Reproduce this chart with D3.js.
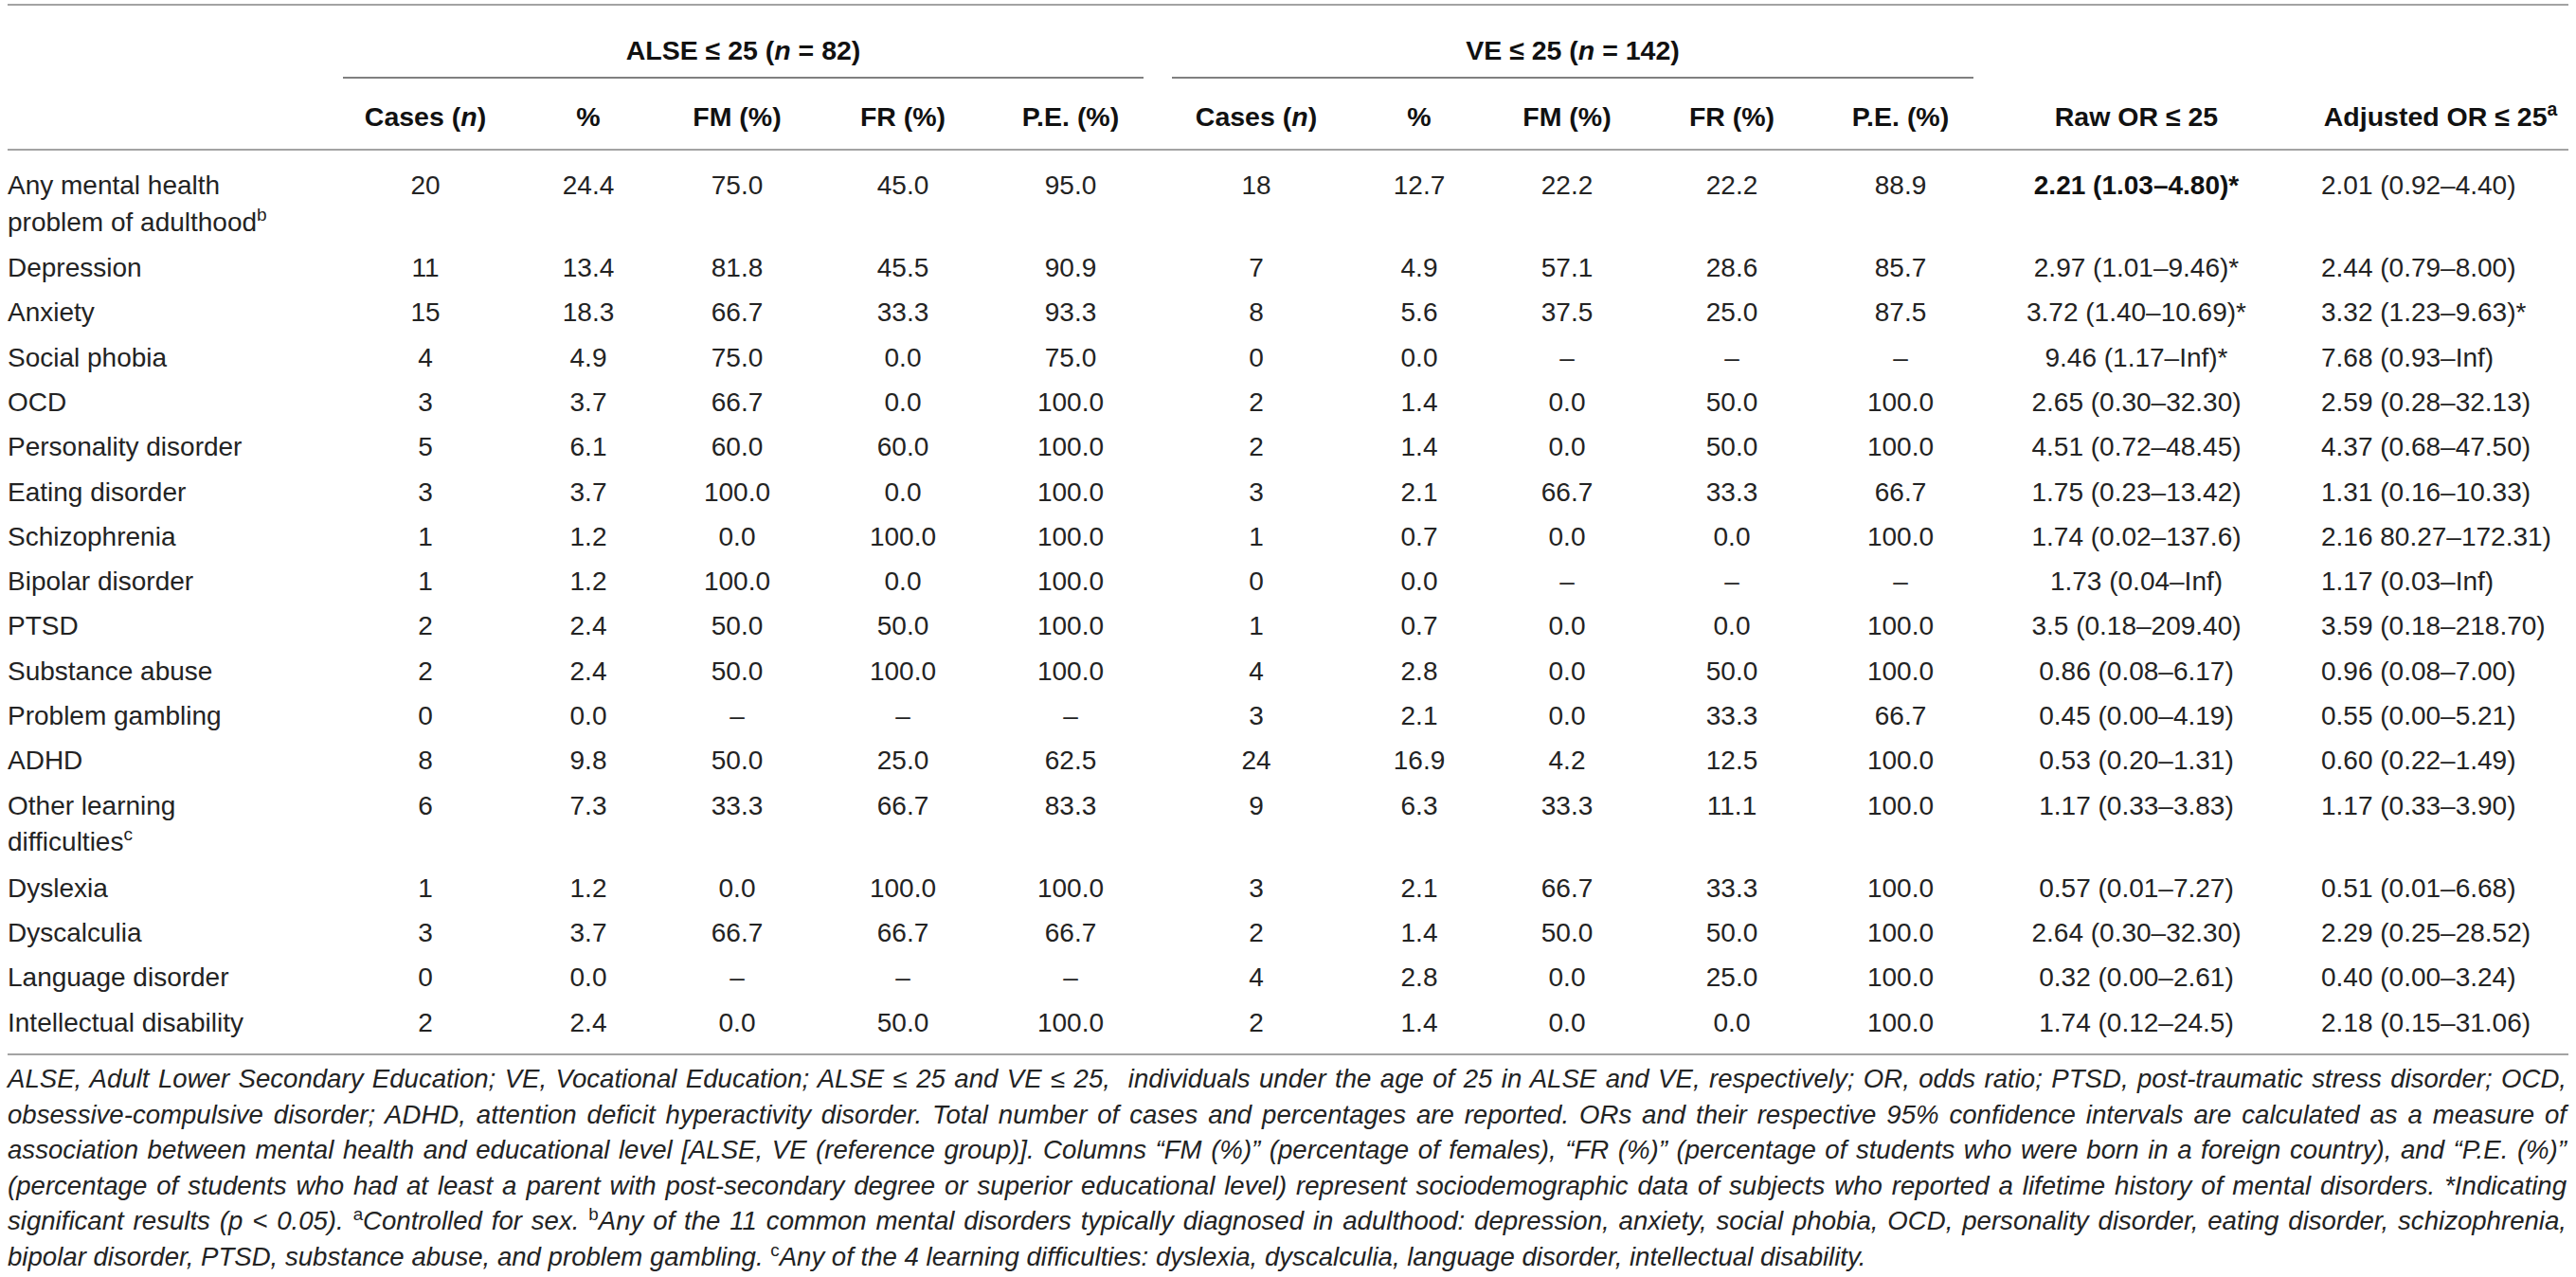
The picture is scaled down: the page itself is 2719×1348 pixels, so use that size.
<!DOCTYPE html>
<html><head><meta charset="utf-8">
<script src="https://cdn.jsdelivr.net/npm/d3@7"></script>
<style>
html,body{margin:0;padding:0;background:#fff;}
svg{display:block;}
text{font-family:"Liberation Sans",Arial,Helvetica,sans-serif;fill:#232323;}
</style></head><body>
<svg id="chart" width="2719" height="1348"></svg>
<script>
// ---------------- DATA ----------------
const categories = ["Any mental health problem of adulthood","Depression","Anxiety","Social phobia","OCD","Personality disorder","Eating disorder","Schizophrenia","Bipolar disorder","PTSD","Substance abuse","Problem gambling","ADHD","Other learning difficulties","Dyslexia","Dyscalculia","Language disorder","Intellectual disability"];
const labelNotes = ["b","","","","","","","","","","","","","c","","","",""];
const alseCases = [20,11,15,4,3,5,3,1,1,2,2,0,8,6,1,3,0,2];
const alsePct = [24.4,13.4,18.3,4.9,3.7,6.1,3.7,1.2,1.2,2.4,2.4,0.0,9.8,7.3,1.2,3.7,0.0,2.4];
const alseFM = [75.0,81.8,66.7,75.0,66.7,60.0,100.0,0.0,100.0,50.0,50.0,null,50.0,33.3,0.0,66.7,null,0.0];
const alseFR = [45.0,45.5,33.3,0.0,0.0,60.0,0.0,100.0,0.0,50.0,100.0,null,25.0,66.7,100.0,66.7,null,50.0];
const alsePE = [95.0,90.9,93.3,75.0,100.0,100.0,100.0,100.0,100.0,100.0,100.0,null,62.5,83.3,100.0,66.7,null,100.0];
const veCases = [18,7,8,0,2,2,3,1,0,1,4,3,24,9,3,2,4,2];
const vePct = [12.7,4.9,5.6,0.0,1.4,1.4,2.1,0.7,0.0,0.7,2.8,2.1,16.9,6.3,2.1,1.4,2.8,1.4];
const veFM = [22.2,57.1,37.5,null,0.0,0.0,66.7,0.0,null,0.0,0.0,0.0,4.2,33.3,66.7,50.0,0.0,0.0];
const veFR = [22.2,28.6,25.0,null,50.0,50.0,33.3,0.0,null,0.0,50.0,33.3,12.5,11.1,33.3,50.0,25.0,0.0];
const vePE = [88.9,85.7,87.5,null,100.0,100.0,66.7,100.0,null,100.0,100.0,66.7,100.0,100.0,100.0,100.0,100.0,100.0];
const rawOR = ["2.21 (1.03–4.80)*","2.97 (1.01–9.46)*","3.72 (1.40–10.69)*","9.46 (1.17–Inf)*","2.65 (0.30–32.30)","4.51 (0.72–48.45)","1.75 (0.23–13.42)","1.74 (0.02–137.6)","1.73 (0.04–Inf)","3.5 (0.18–209.40)","0.86 (0.08–6.17)","0.45 (0.00–4.19)","0.53 (0.20–1.31)","1.17 (0.33–3.83)","0.57 (0.01–7.27)","2.64 (0.30–32.30)","0.32 (0.00–2.61)","1.74 (0.12–24.5)"];
const rawBold = [true,false,false,false,false,false,false,false,false,false,false,false,false,false,false,false,false,false];
const adjOR = ["2.01 (0.92–4.40)","2.44 (0.79–8.00)","3.32 (1.23–9.63)*","7.68 (0.93–Inf)","2.59 (0.28–32.13)","4.37 (0.68–47.50)","1.31 (0.16–10.33)","2.16 80.27–172.31)","1.17 (0.03–Inf)","3.59 (0.18–218.70)","0.96 (0.08–7.00)","0.55 (0.00–5.21)","0.60 (0.22–1.49)","1.17 (0.33–3.90)","0.51 (0.01–6.68)","2.29 (0.25–28.52)","0.40 (0.00–3.24)","2.18 (0.15–31.06)"];
const groupHeaders = [{name:"ALSE", n:82},{name:"VE", n:142}];
const colHeaders = ["Cases (n)","%","FM (%)","FR (%)","P.E. (%)"];
const orHeaders = ["Raw OR ≤ 25","Adjusted OR ≤ 25"];
const orHeaderNotes = ["","a"];
const footnoteLines = [
 "ALSE, Adult Lower Secondary Education; VE, Vocational Education; ALSE ≤ 25 and VE ≤ 25,  individuals under the age of 25 in ALSE and VE, respectively; OR, odds ratio; PTSD, post-traumatic stress disorder; OCD,",
 "obsessive-compulsive disorder; ADHD, attention deficit hyperactivity disorder. Total number of cases and percentages are reported. ORs and their respective 95% confidence intervals are calculated as a measure of",
 "association between mental health and educational level [ALSE, VE (reference group)]. Columns “FM (%)” (percentage of females), “FR (%)” (percentage of students who were born in a foreign country), and “P.E. (%)”",
 "(percentage of students who had at least a parent with post-secondary degree or superior educational level) represent sociodemographic data of subjects who reported a lifetime history of mental disorders. *Indicating",
 "significant results (p < 0.05). {a}Controlled for sex. {b}Any of the 11 common mental disorders typically diagnosed in adulthood: depression, anxiety, social phobia, OCD, personality disorder, eating disorder, schizophrenia,",
 "bipolar disorder, PTSD, substance abuse, and problem gambling. {c}Any of the 4 learning difficulties: dyslexia, dyscalculia, language disorder, intellectual disability."
];

// ---------------- LAYOUT ----------------
const W = 2719, H = 1348;
const svg = d3.select("#chart");
const FS = 28, HFS = 28.5, NFS = 27.6;
const left = 8, right = 2711;
const rule = "#a3a3a3", groupRule = "#808080";

const colKeys = ["aC","aP","aFM","aFR","aPE","vC","vP","vFM","vFR","vPE","raw","adj"];
const colX = d3.scaleOrdinal().domain(colKeys)
  .range([449,621,778,953,1130,1326,1498,1654,1828,2006,2255,2450]);
const colData = {aC:alseCases,aP:alsePct,aFM:alseFM,aFR:alseFR,aPE:alsePE,
  vC:veCases,vP:vePct,vFM:veFM,vFR:veFR,vPE:vePE,raw:rawOR,adj:adjOR};
const fmt1 = d3.format(".1f");

// labels wrapping
const measure = svg.append("text").attr("font-size",FS).attr("visibility","hidden");
function textW(s){ measure.text(s); return measure.node().getComputedTextLength(); }
const wrapW = 300;
const labelLines = categories.map(c=>{
  const words = c.split(" "); const lines=[]; let cur="";
  words.forEach(w=>{ const t = cur?cur+" "+w:w; if(textW(t)>wrapW && cur){lines.push(cur);cur=w;} else cur=t;});
  lines.push(cur); return lines;
});
measure.remove();

const singleH = 47.3, lineStep = 38.5;
const rowH = labelLines.map(l => singleH + (l.length-1)*(87-singleH));
const rowStart = [0].concat(Array.from(d3.cumsum(rowH)).slice(0,-1));
const yRow = d3.scaleLinear().domain([0,1]).range([195,196]);
const rowY = i => yRow(0) + rowStart[i];
const base = 10;

// ---------------- RULES ----------------
const rules = [5, 158, 1113];
svg.selectAll("line.rule").data(rules).join("line").attr("class","rule")
  .attr("x1",left).attr("x2",right).attr("y1",d=>d).attr("y2",d=>d)
  .attr("stroke",rule).attr("stroke-width",2);
const groupSpans = [[362,1207],[1237,2083]];
svg.selectAll("line.grp").data(groupSpans).join("line").attr("class","grp")
  .attr("x1",d=>d[0]).attr("x2",d=>d[1]).attr("y1",82).attr("y2",82)
  .attr("stroke",groupRule).attr("stroke-width",1.8);

// ---------------- HEADERS ----------------
const gh = svg.selectAll("text.gh").data(groupHeaders).join("text").attr("class","gh")
  .attr("x",(d,i)=>(groupSpans[i][0]+groupSpans[i][1])/2).attr("y",63)
  .attr("text-anchor","middle").attr("font-size",HFS).attr("font-weight","bold").style("fill","#111");
gh.append("tspan").text(d=>d.name+" ≤ 25 (");
gh.append("tspan").attr("font-style","italic").text("n");
gh.append("tspan").text(d=>" = "+d.n+")");

const hdrCols = colKeys.slice(0,10);
const ch = svg.selectAll("text.ch").data(hdrCols).join("text").attr("class","ch")
  .attr("x",d=>colX(d)).attr("y",133).attr("text-anchor","middle")
  .attr("font-size",HFS).attr("font-weight","bold").style("fill","#111");
ch.each(function(d,i){
  const h = colHeaders[i%5]; const t = d3.select(this);
  if(h.indexOf("(n)")>=0){ t.append("tspan").text("Cases ("); t.append("tspan").attr("font-style","italic").text("n"); t.append("tspan").text(")"); }
  else t.text(h);
});
const orX = [2255, 2576];
const oh = svg.selectAll("text.oh").data(orHeaders).join("text").attr("class","oh")
  .attr("x",(d,i)=>orX[i]).attr("y",133).attr("text-anchor","middle")
  .attr("font-size",HFS).attr("font-weight","bold").style("fill","#111");
oh.append("tspan").text(d=>d);
oh.append("tspan").attr("font-size",HFS*0.68).attr("dy",-11).text((d,i)=>orHeaderNotes[i]);

// ---------------- ROW LABELS ----------------
const lbl = svg.selectAll("g.lbl").data(categories).join("g").attr("class","lbl");
lbl.each(function(d,i){
  const g = d3.select(this);
  labelLines[i].forEach((ln,k)=>{
    const t = g.append("text").attr("x",left).attr("y",rowY(i)+k*lineStep+base).attr("font-size",FS);
    t.append("tspan").text(ln);
    if(k===labelLines[i].length-1 && labelNotes[i])
      t.append("tspan").attr("font-size",FS*0.68).attr("dy",-11).text(labelNotes[i]);
  });
});

// ---------------- CELLS ----------------
colKeys.forEach(key=>{
  const vals = colData[key];
  svg.selectAll("text.c-"+key).data(vals).join("text").attr("class","c-"+key)
    .attr("x",colX(key)).attr("y",(d,i)=>rowY(i)+base)
    .attr("text-anchor", key==="adj" ? "start" : "middle")
    .attr("font-size",FS)
    .attr("font-weight",(d,i)=> key==="raw" && rawBold[i] ? "bold" : null)
    .style("fill",(d,i)=> key==="raw" && rawBold[i] ? "#111" : null)
    .text(d=>{
      if(d===null) return "–";
      if(typeof d === "string") return d;
      if(key==="aC"||key==="vC") return d;
      return fmt1(d);
    });
});

// ---------------- FOOTNOTE ----------------
const fnY0 = 1148, fnStep = 37.6;
footnoteLines.forEach((ln,i)=>{
  const t = svg.append("text").attr("x",left).attr("y",fnY0+i*fnStep)
    .attr("font-size",NFS).attr("font-style","italic").attr("xml:space","preserve");
  const parts = ln.split(/\{([abc])\}/);
  parts.forEach((p,k)=>{
    if(k%2===1){ t.append("tspan").attr("font-size",NFS*0.68).attr("font-style","normal").attr("dy",-10).text(p); }
    else if(p.length){ const s = t.append("tspan").text(p); if(k>0) s.attr("dy",10); }
  });
  if(i < footnoteLines.length-1){
    const natural = t.node().getComputedTextLength();
    const spaces = (ln.match(/ /g)||[]).length;
    const target = right - left - 2;
    if(spaces>0) t.style("word-spacing", ((target-natural)/spaces)+"px");
  }
});
</script>
</body></html>
